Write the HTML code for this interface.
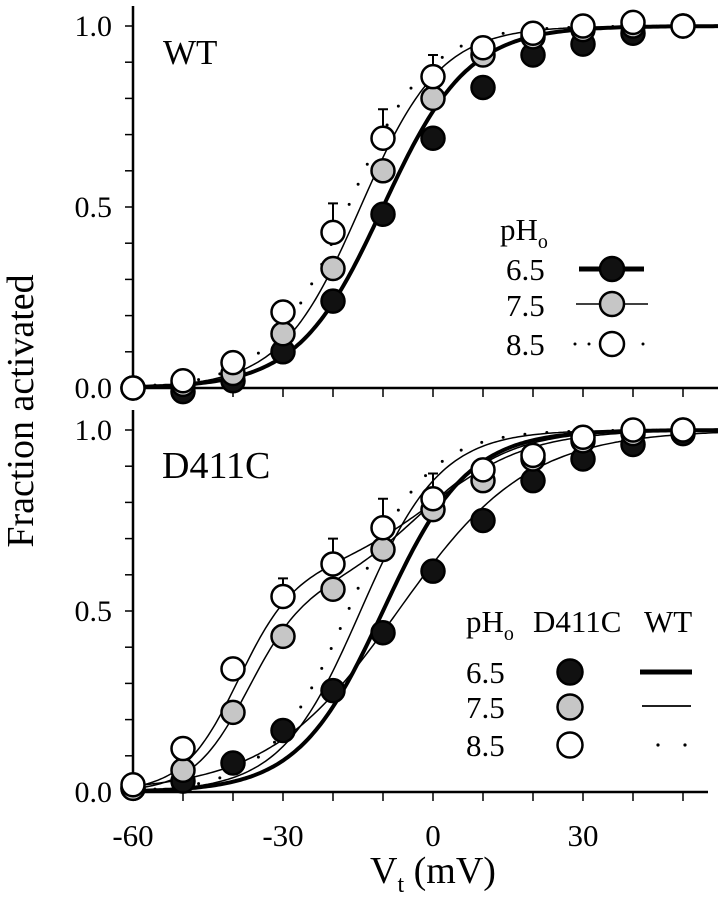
<!DOCTYPE html>
<html><head><meta charset="utf-8"><style>
html,body{margin:0;padding:0;background:#fff;}
svg{display:block;font-family:"Liberation Serif",serif;}
</style></head><body>
<svg id="chart" width="719" height="899" viewBox="0 0 719 899" xmlns="http://www.w3.org/2000/svg"></svg>
<script>
const voltages = [-60,-50,-40,-30,-20,-10,0,10,20,30,40,50];
const wt65 = [0,-0.01,0.02,0.10,0.24,0.48,0.69,0.83,0.92,0.95,0.98,1.0];
const wt75 = [0,0.01,0.04,0.15,0.33,0.60,0.80,0.92,0.97,0.99,1.0,1.0];
const wt85 = [0,0.02,0.07,0.21,0.43,0.69,0.86,0.94,0.98,1.0,1.01,1.0];
const wt85Err = [0,0,0,0.24,0.51,0.77,0.92,0,0,0,0,0];
const d65 = [0.01,0.03,0.08,0.17,0.28,0.44,0.61,0.75,0.86,0.92,0.96,0.99];
const d75 = [0.01,0.06,0.22,0.43,0.56,0.67,0.78,0.86,0.92,0.97,0.99,1.0];
const d85 = [0.02,0.12,0.34,0.54,0.63,0.73,0.81,0.89,0.93,0.98,1.0,1.0];
const d85Err = [0,0,0,0.59,0.70,0.81,0.88,0,0,0,0,0];
// fit parameters [A, V1, k1, V2, k2]  (double Boltzmann)
const wtFit65 = [1,-10,8.5,0,1];
const wtFit75 = [1,-14.5,8,0,1];
const wtFit85 = [1,-17,8,0,1];
const dFit65 = [1,-7,13,0,1];
const dFit75 = [0.55,-37,5.5,-2,9];
const dFit85 = [0.6,-39,5.5,0,10];
const xTicks = [-60,-30,0,30];
const yTicks = [0,0.5,1.0];

const NS="http://www.w3.org/2000/svg";
const svg=document.getElementById('chart');
function mk(tag,attrs,parent){const e=document.createElementNS(NS,tag);for(const k in attrs)e.setAttribute(k,attrs[k]);(parent||svg).appendChild(e);return e;}
const xS=v=>433+5*v;
const panels=[{y0:388,y1:26,top:6,right:718},{y0:792,y1:430,top:410,right:708}];
function yS(p,f){return p.y0+(p.y1-p.y0)*f;}

panels.forEach((p,pi)=>{
  const g=mk('g',{});
  
  
  const ya=mk('line',{x1:133,x2:133,y1:p.top,y2:p.y0+2,stroke:'#000','stroke-width':2.5},g);
  
  
  const xa=mk('line',{x1:132,x2:p.right,y1:p.y0,y2:p.y0,stroke:'#000','stroke-width':2.5},g);
  
  
  for(let i=0;i<=10;i++){
    const t=mk('line',{x1:125,x2:133,y1:yS(p,i/10),y2:yS(p,i/10),stroke:'#000','stroke-width':1.5},g);
    
    
  }
  for(let v=-50;v<=50;v+=10){
    const t=mk('line',{x1:xS(v),x2:xS(v),y1:p.y0,y2:p.y0+9,stroke:'#000','stroke-width':1.5},g);
    
    
  }
  yTicks.forEach(f=>{
    const t=mk('text',{x:112,y:yS(p,f)+10,'text-anchor':'end','font-size':30},g);
    t.textContent=f.toFixed(1);
    
    
  });
});
xTicks.forEach(v=>{
  const t=mk('text',{x:xS(v),y:846,'text-anchor':'middle','font-size':31});
  t.textContent=v;
  
  
});
function fitVal(f,v){return f[0]/(1+Math.exp((f[1]-v)/f[2]))+(1-f[0])/(1+Math.exp((f[3]-v)/f[4]));}
function curve(p,fit,style,name){
  let d='';
  for(let v=-60;v<=57;v+=0.5){d+=(d?'L':'M')+xS(v).toFixed(1)+','+yS(p,fitVal(fit,v)).toFixed(1);}
  const a={d:d,fill:'none',stroke:'#000'};
  if(style==='thick'){a['stroke-width']=4;}
  else if(style==='thin'){a['stroke-width']=1.5;}
  else {a['stroke-width']=3;a['stroke-dasharray']='0 22';a['stroke-linecap']='round';}
  const e=mk('path',a);
  
  
}
const FILL={black:'#111',gray:'#c6c6c6',white:'#fff'};
function points(p,vals,color,err,name){
  vals.forEach((f,i)=>{
    if(err&&err[i]){
      const eb=mk('path',{d:`M${xS(voltages[i])},${yS(p,f)}V${yS(p,err[i])}M${xS(voltages[i])-5},${yS(p,err[i])}H${xS(voltages[i])+5}`,stroke:'#000','stroke-width':2,fill:'none'});
      
      
    }
    const c=mk('circle',{cx:xS(voltages[i]),cy:yS(p,f),r:11.5,fill:FILL[color],stroke:'#000','stroke-width':2.5});
    
    
  });
}
const P0=panels[0],P1=panels[1];
curve(P0,wtFit85,'dot','wt-fit-ph85');
curve(P0,wtFit75,'thin','wt-fit-ph75');
curve(P0,wtFit65,'thick','wt-fit-ph65');
points(P0,wt65,'black',null,'wt-point-ph65');
points(P0,wt75,'gray',null,'wt-point-ph75');
points(P0,wt85,'white',wt85Err,'wt-point-ph85');

curve(P1,wtFit85,'dot','wt-ref-fit-ph85');
curve(P1,wtFit75,'thin','wt-ref-fit-ph75');
curve(P1,wtFit65,'thick','wt-ref-fit-ph65');
curve(P1,dFit65,'thin','d411c-fit-ph65');
curve(P1,dFit75,'thin','d411c-fit-ph75');
curve(P1,dFit85,'thin','d411c-fit-ph85');
points(P1,d65,'black',null,'d411c-point-ph65');
points(P1,d75,'gray',null,'d411c-point-ph75');
points(P1,d85,'white',d85Err,'d411c-point-ph85');

const s=svg;
s.insertAdjacentHTML('beforeend',`
<text x="163" y="64" font-size="35">WT</text>
<text x="162" y="478" font-size="38">D411C</text>
<text transform="translate(33,411) rotate(-90)" text-anchor="middle" font-size="38">Fraction activated</text>
<text x="433" y="883" text-anchor="middle" font-size="38">V<tspan font-size="24" dy="9">t</tspan><tspan dy="-9"> (mV)</tspan></text>
<g>
<text x="500" y="240" font-size="31">pH<tspan font-size="20" dy="8">o</tspan></text>
<text x="506" y="280" font-size="31">6.5</text>
<text x="506" y="316" font-size="31">7.5</text>
<text x="506" y="355" font-size="31">8.5</text>
<line x1="579" x2="644" y1="269" y2="269" stroke="#000" stroke-width="5"/>
<circle cx="612" cy="269" r="12" fill="#111" stroke="#000" stroke-width="2.5"/>
<line x1="576" x2="648" y1="304" y2="304" stroke="#000" stroke-width="1.5"/>
<circle cx="612" cy="304" r="12" fill="#c6c6c6" stroke="#000" stroke-width="2.5"/>
<circle cx="575" cy="344" r="1.5" fill="#000"/><circle cx="589" cy="344" r="1.5" fill="#000"/><circle cx="643" cy="344" r="1.5" fill="#000"/>
<circle cx="612" cy="344" r="12" fill="#fff" stroke="#000" stroke-width="2.5"/>
</g>
<g>
<text x="466" y="632" font-size="31">pH<tspan font-size="20" dy="8">o</tspan></text>
<text x="533" y="632" font-size="31">D411C</text>
<text x="644" y="632" font-size="31">WT</text>
<text x="466" y="683" font-size="31">6.5</text>
<text x="466" y="718" font-size="31">7.5</text>
<text x="466" y="756" font-size="31">8.5</text>
<circle cx="570" cy="672" r="12.5" fill="#111" stroke="#000" stroke-width="2.5"/>
<circle cx="570" cy="707" r="12.5" fill="#c6c6c6" stroke="#000" stroke-width="2.5"/>
<circle cx="570" cy="745" r="12.5" fill="#fff" stroke="#000" stroke-width="2.5"/>
<line x1="640" x2="692" y1="672" y2="672" stroke="#000" stroke-width="5"/>
<line x1="642" x2="691" y1="706" y2="706" stroke="#000" stroke-width="1.8"/>
<circle cx="658" cy="745" r="1.6" fill="#000"/><circle cx="685" cy="745" r="1.6" fill="#000"/>
</g>`);
</script>
</body></html>
